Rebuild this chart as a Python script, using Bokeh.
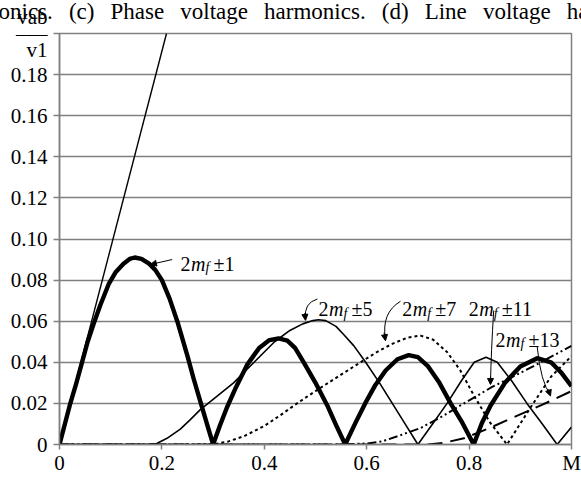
from bokeh.plotting import figure
from bokeh.models import Label, Arrow, NormalHead, FixedTicker, Range1d
from bokeh.embed import file_html
from bokeh.resources import INLINE

# ---------------- data ----------------
# fundamental (thin straight line)
m_fund = [0.0, 0.209]
v_fund = [0.0, 0.2]

# 2mf±1 (thick)
m_h1 = [0, 0.01, 0.02, 0.033, 0.044, 0.055, 0.067, 0.08, 0.096, 0.11, 0.125, 0.137, 0.147,
        0.16, 0.175, 0.187, 0.2, 0.215, 0.23, 0.25, 0.262, 0.275, 0.288, 0.3,
        0.313, 0.327, 0.345, 0.367, 0.39, 0.41, 0.428, 0.445, 0.46, 0.477, 0.5, 0.523, 0.54, 0.558,
        0.578, 0.597, 0.617, 0.637, 0.66, 0.682, 0.70, 0.72, 0.742, 0.764, 0.787, 0.809,
        0.825, 0.842, 0.87, 0.9, 0.933, 0.96, 0.98, 1.0]
v_h1 = [0, 0.0095, 0.019, 0.030, 0.040, 0.050, 0.059, 0.068, 0.078, 0.084, 0.088, 0.0903, 0.091,
        0.0903, 0.088, 0.085, 0.080, 0.071, 0.060, 0.043, 0.032, 0.021, 0.010, 0,
        0.009, 0.018, 0.028, 0.039, 0.047, 0.0508, 0.0516, 0.0505, 0.047, 0.040, 0.030, 0.019, 0.0095, 0,
        0.0105, 0.020, 0.029, 0.036, 0.0415, 0.0435, 0.0425, 0.038, 0.030, 0.020, 0.0105, 0,
        0.0105, 0.019, 0.030, 0.038, 0.042, 0.040, 0.035, 0.0284]

# 2mf±5 (thin solid)
m_h5 = [0, 0.17, 0.19, 0.21, 0.236, 0.255, 0.275, 0.3, 0.34, 0.38, 0.42, 0.45, 0.475, 0.495, 0.506,
        0.52, 0.54, 0.555, 0.575, 0.598, 0.625, 0.65, 0.675, 0.70,
        0.73, 0.757, 0.785, 0.81, 0.833, 0.855, 0.883, 0.913, 0.943, 0.972, 1.0]
v_h5 = [0, 0, 0.0005, 0.003, 0.0075, 0.012, 0.017, 0.022, 0.030, 0.040, 0.050, 0.0555, 0.0587, 0.0603, 0.0607,
        0.0603, 0.0575, 0.0535, 0.048, 0.040, 0.030, 0.020, 0.010, 0,
        0.0105, 0.020, 0.031, 0.040, 0.0425, 0.040, 0.031, 0.020, 0.010, 0, 0.0085]

# 2mf±7 (dotted)
m_h7 = [0, 0.3, 0.33, 0.36, 0.4, 0.43, 0.458, 0.5, 0.55, 0.588, 0.62, 0.65, 0.68, 0.705, 0.73,
        0.757, 0.783, 0.809, 0.84, 0.874, 0.92, 0.96, 1.0]
v_h7 = [0, 0, 0.0015, 0.004, 0.009, 0.014, 0.019, 0.026, 0.034, 0.040, 0.045, 0.049, 0.052, 0.053, 0.051,
        0.045, 0.036, 0.024, 0.011, 0, 0.018, 0.033, 0.043]

# 2mf±11 (dash-dot-dot)
m_h11 = [0, 0.55, 0.6, 0.63, 0.66, 0.705, 0.75, 0.783, 0.845, 0.925, 1.0]
v_h11 = [0, 0, 0.0005, 0.0015, 0.004, 0.008, 0.014, 0.019, 0.028, 0.038, 0.048]

# 2mf±13 (long dash)
m_h13 = [0, 0.72, 0.75, 0.79, 0.84, 0.88, 0.94, 1.0]
v_h13 = [0, 0, 0.0008, 0.003, 0.008, 0.0125, 0.019, 0.026]

x_ticks = [0, 0.2, 0.4, 0.6, 0.8, 1.0]
x_tick_labels = ["0", "0.2", "0.4", "0.6", "0.8", "M"]
y_ticks = [0, 0.02, 0.04, 0.06, 0.08, 0.10, 0.12, 0.14, 0.16, 0.18, 0.20]
y_tick_labels = ["0", "0.02", "0.04", "0.06", "0.08", "0.10", "0.12", "0.14", "0.16", "0.18",
                 "vab\n\u2013\u2013\u2013\nv1"]
grid_ticks = [0, 0.02, 0.04, 0.06, 0.08, 0.10, 0.12, 0.14, 0.16, 0.18]

SP = "\u2002\u2009"   # wide (justified) word space of the cut-off caption
caption_words = ["onics.", "(c)", "Phase", "voltage", "harmonics.", "(d)", "Line", "voltage", "ha"]

# ---------------- figure ----------------
FONT = "Liberation Serif"
GRAY = "#808080"

p = figure(width=581, height=477, x_range=Range1d(0, 1), y_range=Range1d(0, 0.2),
           output_backend="svg", toolbar_location=None,
           min_border_left=59, min_border_right=10, min_border_top=33, min_border_bottom=28)
p.background_fill_color = "white"
p.border_fill_color = "white"
p.outline_line_color = GRAY
p.outline_line_width = 1.5

p.xaxis.ticker = FixedTicker(ticks=x_ticks)
p.xaxis.major_label_overrides = dict(zip(x_ticks, x_tick_labels))
p.yaxis.ticker = FixedTicker(ticks=y_ticks)
p.yaxis.major_label_overrides = dict(zip(y_ticks, y_tick_labels))
for ax in (p.xaxis, p.yaxis):
    ax.major_label_text_font = FONT
    ax.major_label_text_font_size = "21px"
    ax.major_label_text_color = "black"
    ax.axis_line_color = GRAY
    ax.axis_line_width = 1.5
    ax.major_tick_line_color = GRAY
    ax.major_tick_line_width = 1.5
    ax.major_tick_in = 0
    ax.minor_tick_line_color = None
p.xaxis.major_tick_out = 5
p.xaxis.major_label_standoff = 1
p.yaxis.major_tick_out = 6
p.yaxis.major_label_standoff = 6
p.yaxis.major_label_text_line_height = 0.68

p.xgrid.visible = False
p.ygrid.ticker = FixedTicker(ticks=grid_ticks)
p.ygrid.grid_line_color = GRAY
p.ygrid.grid_line_width = 1.5

# ---------------- curves ----------------
p.line(m_fund, v_fund, line_color="black", line_width=1.4)
p.line(m_h13, v_h13, line_color="black", line_width=2, line_dash="15 8")
p.line(m_h11, v_h11, line_color="black", line_width=2, line_dash="9 3 2 3 2 3")
p.line(m_h7, v_h7, line_color="black", line_width=2, line_dash="3 3")
p.line(m_h5, v_h5, line_color="black", line_width=1.6)
p.line(m_h1, v_h1, line_color="black", line_width=4.4, line_join="round")

# ---------------- annotations ----------------
def txt(x, y, text, size, style="normal", dx=0, dy=0):
    p.add_layout(Label(x=x, y=y, text=text, x_offset=dx, y_offset=dy,
                       text_font=FONT, text_font_size=f"{size}px", text_font_style=style,
                       text_color="black", text_baseline="alphabetic", text_align="left"))

def harmonic(x, y, n):
    txt(x, y, "2", 20)
    txt(x, y, "m", 20, "italic", dx=10.5)
    txt(x, y, "f", 14, "italic", dx=25, dy=-4)
    txt(x, y, "\u00b1" + n, 20, dx=33)

harmonic(0.2363, 0.0880, "1")
harmonic(0.5059, 0.0659, "5")
harmonic(0.6693, 0.0659, "7")
harmonic(0.7994, 0.0659, "11")
harmonic(0.8516, 0.0510, "13")

def head(xs, ys, xe, ye):
    p.add_layout(Arrow(end=NormalHead(size=6, fill_color="black", line_color="black", line_width=1),
                       x_start=xs, y_start=ys, x_end=xe, y_end=ye,
                       line_color="black", line_width=1))

# 2mf±1 straight arrow
head(0.220, 0.0900, 0.1777, 0.0876)
# curved leaders
p.quadratic(x0=0.5037, y0=0.0708, cx=0.4766, cy=0.0689, x1=0.4805, y1=0.0610, line_color="black", line_width=1)
head(0.4790, 0.0640, 0.4805, 0.0604)
p.quadratic(x0=0.666, y0=0.0697, cx=0.628, cy=0.064, x1=0.6367, y1=0.0512, line_color="black", line_width=1)
head(0.6340, 0.0545, 0.6367, 0.0505)
p.quadratic(x0=0.848, y0=0.0652, cx=0.843, cy=0.045, x1=0.8418, y1=0.0300, line_color="black", line_width=1)
head(0.8418, 0.0330, 0.8418, 0.0292)
p.quadratic(x0=0.933, y0=0.0476, cx=0.940, cy=0.030, x1=0.959, y1=0.0242, line_color="black", line_width=1)
head(0.954, 0.0270, 0.959, 0.0236)

# cut-off caption of the page at the very top (single label in the top panel, canvas pixels)
p.add_layout(Label(x=-2, y=11, x_units="canvas", y_units="canvas", text=SP.join(caption_words),
                   text_font=FONT, text_font_size="23px", text_color="black",
                   text_baseline="alphabetic", text_align="left"), "above")

open("out.html", "w").write(file_html(p, INLINE))
